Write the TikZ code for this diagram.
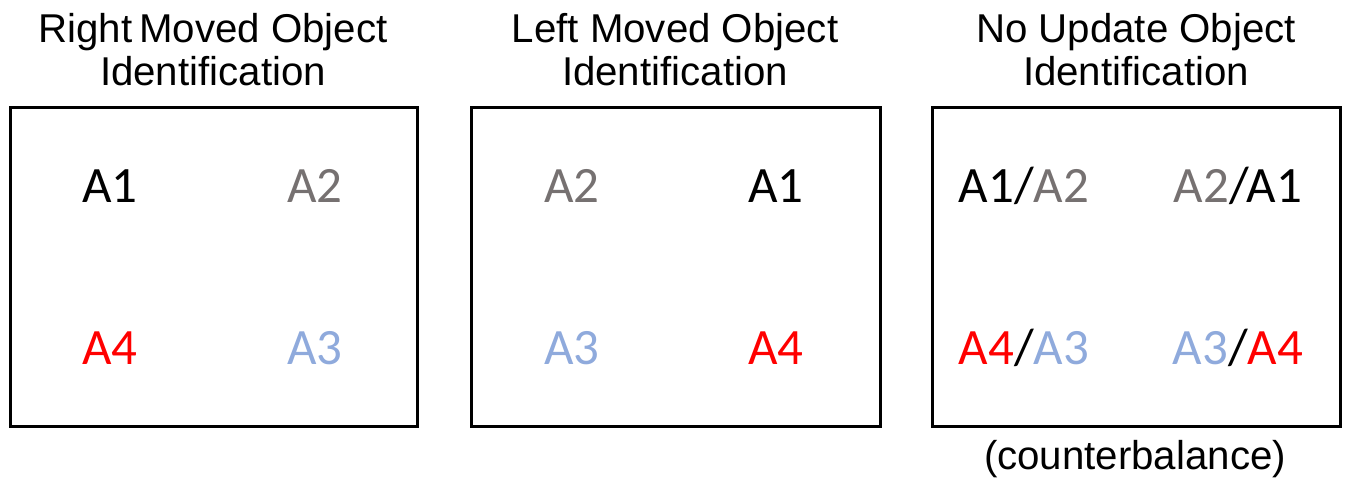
\documentclass[tikz,border=0pt]{standalone}
\usepackage{fontspec}
\setmainfont{Liberation Sans}
\newfontfamily\labelfont{Carlito}
\usepackage{xcolor}
\definecolor{objgray} {RGB}{118,113,113}
\definecolor{objblue} {RGB}{143,170,220}
\definecolor{objred}  {RGB}{255,  0,  0}
\usetikzlibrary{positioning}

\begin{document}
\begin{tikzpicture}[
    x=0.02cm, y=-0.02cm,
    panel/.style={draw, line width=1.7pt, minimum width=8.16cm, minimum height=6.4cm, inner sep=0pt},
    heading/.style={align=center, font=\fontsize{22.9}{24.5}\selectfont, inner sep=0pt},
    obj/.style={font=\labelfont\fontsize{29}{30}\selectfont, inner sep=0pt}
]
    \useasboundingbox (0,0) rectangle (1347,481);

    % Panels
    \node[panel] (right) at (214,267) {};
    \node[panel, minimum width=8.2cm] (left) at (676,267) {};
    \node[panel, minimum width=8.18cm] (none) at (1136.5,267) {};

    % Headings
    \node[heading] (rtitle) at (213,50) {Right\,Moved Object\\Identification};
    \node[heading] (ltitle) at (675,50) {Left Moved Object\\Identification};
    \node[heading] (ntitle) at (1136,50) {No Update Object\\Identification};
    \node[heading] (cb) at (1135,459) {(counterbalance)};

    % Right moved
    \node[obj] (r1) at (110,186) {A1};
    \node[obj, objgray] (r2) at (315,186) {A2};
    \node[obj, objred] (r4) at (110,348) {A4};
    \node[obj, objblue] (r3) at (315,348) {A3};

    % Left moved
    \node[obj, objgray] (l2) at (572,186) {A2};
    \node[obj] (l1) at (776,186) {A1};
    \node[obj, objblue] (l3) at (572,348) {A3};
    \node[obj, objred] (l4) at (776,348) {A4};

    % No update
    \node[obj] (n12) at (1024,186) {A1/{\color{objgray}A2}};
    \node[obj] (n21) at (1238,186) {{\color{objgray}A2}/A1};
    \node[obj] (n43) at (1024,348) {{\color{objred}A4}/{\color{objblue}A3}};
    \node[obj] (n34) at (1238,348) {{\color{objblue}A3}/{\color{objred}A4}};
\end{tikzpicture}
\end{document}
